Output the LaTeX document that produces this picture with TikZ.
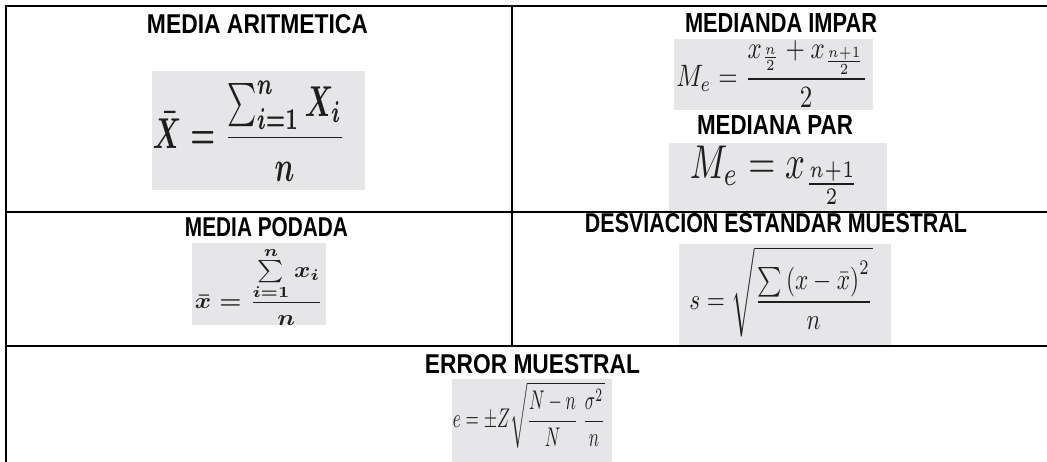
\documentclass[tikz,border=0pt]{standalone}
\usepackage{fontspec}
\setmainfont{Liberation Sans}
\usepackage{amsmath}
\usepackage{graphicx}
\newcommand\ttlbox[2]{\resizebox{#1}{19pt}{\bfseries #2}}
\newcommand\fmlbox[3]{\resizebox*{#1}{#2}{#3}}
\definecolor{imgbg}{HTML}{E6E6E8}
\definecolor{ink}{HTML}{1E1E1E}
\begin{document}
\begin{tikzpicture}[x=1pt,y=-1pt,
  rule/.style={line width=2pt,black},
  ttl/.style={inner sep=0pt,text=black},
  imgbox/.style={fill=imgbg,draw=none},
  fml/.style={inner sep=0pt,text=ink}]
\useasboundingbox (0,0) rectangle (1047,462);
% formula image backgrounds
\fill[imgbox] (152,71) rectangle (365,190);
\fill[imgbox] (674,39) rectangle (873,110);
\fill[imgbox] (669,143) rectangle (887,211);
\fill[imgbox] (192,243) rectangle (326,325);
\fill[imgbox] (679,244) rectangle (891,345);
\fill[imgbox] (452,379) rectangle (612,462);
% table rules
\coordinate (tl) at (6,6);
\coordinate (tr) at (1047,6);
\coordinate (bl) at (6,462);
\coordinate (m1l) at (6,212);
\coordinate (m1r) at (1047,212);
\coordinate (m2l) at (6,346);
\coordinate (m2r) at (1047,346);
\coordinate (vt) at (512,6);
\coordinate (vb) at (512,346);
\draw[rule] (bl) -- (tl) -- (tr);
\draw[rule] (m1l) -- (m1r);
\draw[rule] (m2l) -- (m2r);
\draw[rule] (vt) -- (vb);
% titles
\node[ttl] (t1) at (257.5,24) {\ttlbox{221pt}{MEDIA ARITMETICA}};
\node[ttl] (t2) at (781,23.3) {\ttlbox{192pt}{MEDIANDA IMPAR}};
\node[ttl] (t3) at (775,125) {\ttlbox{156pt}{MEDIANA PAR}};
\node[ttl] (t4) at (266.5,226.7) {\ttlbox{163pt}{MEDIA PODADA}};
\node[ttl] (t5) at (776,223.3) {\ttlbox{382pt}{DESVIACION ESTANDAR MUESTRAL}};
\node[ttl] (t6) at (532.5,364) {\ttlbox{215pt}{ERROR MUESTRAL}};
% formulas
\node[fml] (f1) at (249,131) {\fmlbox{192pt}{100pt}{\boldmath$\displaystyle \bar{X} = \frac{\textstyle\sum_{i=1}^{n} X_i}{n}$}};
\node[fml] (f2) at (772,74) {\fmlbox{191pt}{68pt}{$\displaystyle M_e=\frac{x_{\frac{n}{2}}+x_{\frac{n+1}{2}}}{2}$}};
\node[fml] (f3) at (775,175) {\fmlbox{170pt}{58pt}{$\displaystyle M_e= x_{\frac{n+1}{2}}$}};
\node[fml] (f4) at (259,286) {\fmlbox{128pt}{78pt}{\boldmath$\displaystyle \bar{x}=\frac{\sum\limits_{i=1}^{n} x_i}{n}$}};
\node[fml] (f5) at (781,292) {\fmlbox{183pt}{90pt}{$\displaystyle s=\sqrt{\frac{\sum\left(x-\bar{x}\right)^{2}}{n}}$}};
\node[fml] (f6) at (529,415) {\fmlbox{152pt}{66pt}{$\displaystyle e=\pm Z\sqrt{\frac{N-n}{N}\;\frac{\sigma^{2}}{n}}$}};
\end{tikzpicture}
\end{document}
